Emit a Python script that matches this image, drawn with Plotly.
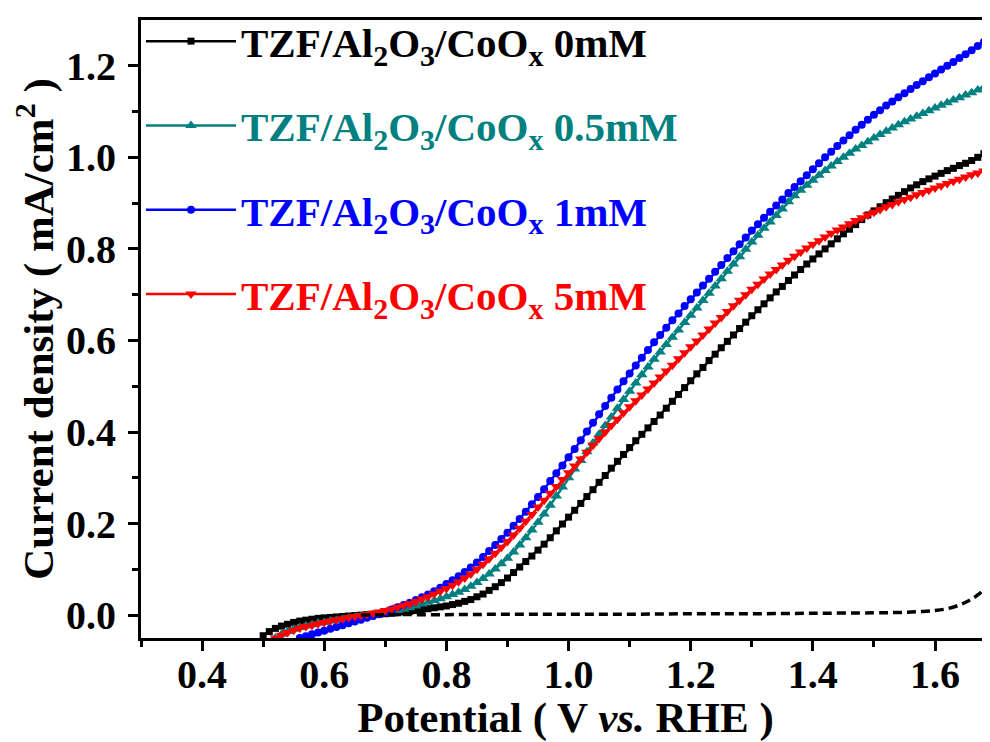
import numpy as np
import plotly.graph_objects as go

# ---------------- data ----------------
x_0mM = np.round(np.arange(0.50, 1.695, 0.01), 2)
y_0mM = [-0.045, -0.036, -0.029, -0.024, -0.020, -0.016, -0.013, -0.011, -0.009, -0.007,
         -0.006, -0.005, -0.004, -0.003, -0.002, -0.001, 0.000, 0.001, 0.002, 0.002,
         0.003, 0.004, 0.005, 0.007, 0.008, 0.010, 0.012, 0.014, 0.016, 0.018,
         0.020, 0.023, 0.026, 0.030, 0.034, 0.040, 0.046, 0.054, 0.062, 0.071,
         0.081, 0.093, 0.105, 0.117, 0.129, 0.142, 0.155, 0.169, 0.184, 0.199,
         0.214, 0.229, 0.244, 0.259, 0.274, 0.290, 0.305, 0.321, 0.336, 0.351,
         0.366, 0.381, 0.395, 0.409, 0.423, 0.437, 0.452, 0.467, 0.482, 0.497,
         0.512, 0.527, 0.541, 0.556, 0.570, 0.584, 0.598, 0.612, 0.626, 0.640,
         0.654, 0.667, 0.680, 0.693, 0.706, 0.718, 0.731, 0.743, 0.755, 0.767,
         0.778, 0.789, 0.800, 0.811, 0.822, 0.833, 0.843, 0.853, 0.864, 0.874,
         0.883, 0.892, 0.901, 0.909, 0.917, 0.925, 0.933, 0.940, 0.947, 0.953,
         0.959, 0.965, 0.971, 0.976, 0.982, 0.987, 0.993, 1.000, 1.008, 1.016]

x_05mM = np.round(np.arange(0.52, 1.695, 0.01), 2)
y_05mM = [-0.050, -0.042, -0.036, -0.031, -0.027, -0.024, -0.021, -0.018,
          -0.016, -0.013, -0.011, -0.009, -0.007, -0.005, -0.003, -0.001, 0.001, 0.003,
          0.005, 0.007, 0.010, 0.013, 0.016, 0.020, 0.024, 0.028, 0.032, 0.036,
          0.040, 0.045, 0.050, 0.056, 0.063, 0.071, 0.080, 0.090, 0.101, 0.112,
          0.124, 0.138, 0.153, 0.169, 0.186, 0.203, 0.221, 0.240, 0.260, 0.280,
          0.300, 0.319, 0.338, 0.357, 0.376, 0.395, 0.414, 0.433, 0.452, 0.471,
          0.489, 0.507, 0.525, 0.542, 0.559, 0.575, 0.591, 0.607, 0.623, 0.639,
          0.655, 0.671, 0.687, 0.703, 0.719, 0.735, 0.751, 0.767, 0.783, 0.799,
          0.815, 0.830, 0.845, 0.859, 0.873, 0.887, 0.903, 0.916, 0.928, 0.939,
          0.950, 0.961, 0.971, 0.981, 0.991, 1.000, 1.009, 1.018, 1.026, 1.034,
          1.042, 1.050, 1.057, 1.064, 1.071, 1.078, 1.084, 1.090, 1.096, 1.102,
          1.108, 1.114, 1.119, 1.125, 1.130, 1.136, 1.141, 1.147, 1.153, 1.160]

x_1mM = np.round(np.arange(0.56, 1.695, 0.01), 2)
y_1mM = [-0.050, -0.046, -0.042, -0.038,
         -0.034, -0.030, -0.026, -0.022, -0.018, -0.014, -0.010, -0.006, -0.002, 0.002,
         0.007, 0.012, 0.017, 0.022, 0.027, 0.033, 0.039, 0.045, 0.052, 0.060,
         0.068, 0.076, 0.085, 0.094, 0.104, 0.115, 0.127, 0.140, 0.153, 0.166,
         0.180, 0.195, 0.210, 0.226, 0.242, 0.258, 0.275, 0.293, 0.310, 0.327,
         0.345, 0.363, 0.382, 0.401, 0.420, 0.439, 0.457, 0.475, 0.493, 0.511,
         0.528, 0.545, 0.562, 0.579, 0.596, 0.612, 0.628, 0.644, 0.659, 0.675,
         0.690, 0.705, 0.720, 0.735, 0.750, 0.765, 0.780, 0.795, 0.810, 0.825,
         0.840, 0.854, 0.868, 0.881, 0.895, 0.908, 0.922, 0.935, 0.948, 0.961,
         0.974, 0.987, 1.000, 1.012, 1.025, 1.037, 1.048, 1.060, 1.071, 1.082,
         1.093, 1.103, 1.113, 1.122, 1.131, 1.140, 1.149, 1.158, 1.166, 1.175,
         1.183, 1.192, 1.200, 1.208, 1.217, 1.225, 1.234, 1.243, 1.252, 1.262]

x_5mM = np.round(np.arange(0.52, 1.695, 0.01), 2)
y_5mM = [-0.050, -0.044, -0.038, -0.033, -0.028, -0.025, -0.022, -0.019,
         -0.016, -0.013, -0.010, -0.008, -0.005, -0.003, -0.001, 0.002, 0.004, 0.007,
         0.010, 0.013, 0.017, 0.021, 0.025, 0.030, 0.035, 0.040, 0.046, 0.052,
         0.058, 0.065, 0.073, 0.081, 0.090, 0.100, 0.111, 0.123, 0.135, 0.148,
         0.161, 0.175, 0.190, 0.205, 0.220, 0.236, 0.251, 0.266, 0.281, 0.296,
         0.311, 0.326, 0.341, 0.356, 0.371, 0.386, 0.400, 0.414, 0.428, 0.442,
         0.455, 0.468, 0.481, 0.494, 0.507, 0.520, 0.533, 0.546, 0.560, 0.573,
         0.586, 0.599, 0.612, 0.625, 0.638, 0.650, 0.663, 0.676, 0.688, 0.700,
         0.712, 0.723, 0.734, 0.745, 0.755, 0.765, 0.775, 0.784, 0.793, 0.802,
         0.810, 0.818, 0.826, 0.834, 0.841, 0.848, 0.855, 0.862, 0.868, 0.874,
         0.880, 0.886, 0.892, 0.897, 0.903, 0.908, 0.913, 0.918, 0.923, 0.928,
         0.933, 0.938, 0.943, 0.948, 0.952, 0.957, 0.962, 0.966, 0.970, 0.975]

x_dark = [0.66, 0.70, 0.80, 0.90, 1.00, 1.10, 1.20, 1.30, 1.40, 1.50,
          1.55, 1.58, 1.60, 1.62, 1.64, 1.65, 1.66, 1.67, 1.68, 1.69]
y_dark = [0.000, 0.001, 0.001, 0.002, 0.002, 0.002, 0.003, 0.003, 0.004, 0.005,
          0.006, 0.008, 0.010, 0.014, 0.022, 0.028, 0.035, 0.044, 0.056, 0.072]

labels = ["0mM", "0.5mM", "1mM", "5mM"]
colors = ["#000000", "#008080", "#0000FF", "#FF0000"]
symbols = ["square", "triangle-up", "circle", "triangle-down"]
msizes = [7, 10, 8, 10]

x_ticks = [0.4, 0.6, 0.8, 1.0, 1.2, 1.4, 1.6]
y_ticks = [0.0, 0.2, 0.4, 0.6, 0.8, 1.0, 1.2]

# ---------------- figure ----------------
FONT = "Liberation Serif"
fig = go.Figure()

SUB = "<sub><span style='font-size:30px'>%s</span></sub>"
series = [(x_0mM, y_0mM), (x_05mM, y_05mM), (x_1mM, y_1mM), (x_5mM, y_5mM)]
for i, (xs, ys) in enumerate(series):
    name = ("<span style='color:%s'>TZF/Al%sO%s/CoO%s %s</span>"
            % (colors[i], SUB % "2", SUB % "3", SUB % "x", labels[i]))
    fig.add_trace(go.Scatter(
        x=xs, y=ys, mode="lines+markers", name=name,
        legendgroup="g%d" % i,
        line=dict(color=colors[i], width=2.5),
        marker=dict(symbol=symbols[i], size=msizes[i], color=colors[i],
                    line=dict(width=0)),
    ))

fig.add_trace(go.Scatter(
    x=x_dark, y=y_dark, mode="lines", showlegend=False,
    line=dict(color="#000000", width=3.5, dash="9px,5px", shape="spline"),
))

axis_common = dict(
    showline=True, linewidth=3, linecolor="black",
    ticks="outside", ticklen=10, tickwidth=3, tickcolor="black",
    showgrid=False, zeroline=False, automargin=False,
    tickfont=dict(family=FONT, size=40, color="black", weight="bold"),
)

# the page body adds an 8px offset; the figure is sized to fill the rest
fig.update_layout(
    width=982, height=734,
    margin=dict(l=133, r=0, t=9, b=104),
    paper_bgcolor="white", plot_bgcolor="white",
    font=dict(family=FONT, color="black", weight="bold"),
    xaxis=dict(
        range=[0.3, 1.69], tickvals=x_ticks,
        ticktext=["%.1f" % v for v in x_ticks],
        mirror=True, ticklabelstandoff=-11,
        minor=dict(tickvals=[0.3, 0.5, 0.7, 0.9, 1.1, 1.3, 1.5], ticklen=6,
                   tickwidth=3, tickcolor="black", ticks="outside"),
        title=dict(text="Potential ( V <i>vs.</i> RHE )", standoff=0,
                   font=dict(family=FONT, size=43, color="black", weight="bold")),
        **axis_common,
    ),
    yaxis=dict(
        range=[-0.05, 1.3], tickvals=y_ticks,
        ticktext=["%.1f" % v for v in y_ticks],
        ticklabelstandoff=4,
        minor=dict(tickvals=[0.1, 0.3, 0.5, 0.7, 0.9, 1.1], ticklen=6,
                   tickwidth=3, tickcolor="black", ticks="outside"),
        title=dict(text="Current density ( mA/cm<sup>2</sup> )", standoff=0,
                   font=dict(family=FONT, size=43, color="black", weight="bold")),
        **axis_common,
    ),
    legend=dict(
        x=0.0, y=1.02, xanchor="left", yanchor="top",
        bgcolor="rgba(0,0,0,0)", borderwidth=0,
        font=dict(family=FONT, size=41, weight="bold"),
        itemwidth=90, tracegroupgap=28, traceorder="grouped",
    ),
)

fig.write_html("out.html")
